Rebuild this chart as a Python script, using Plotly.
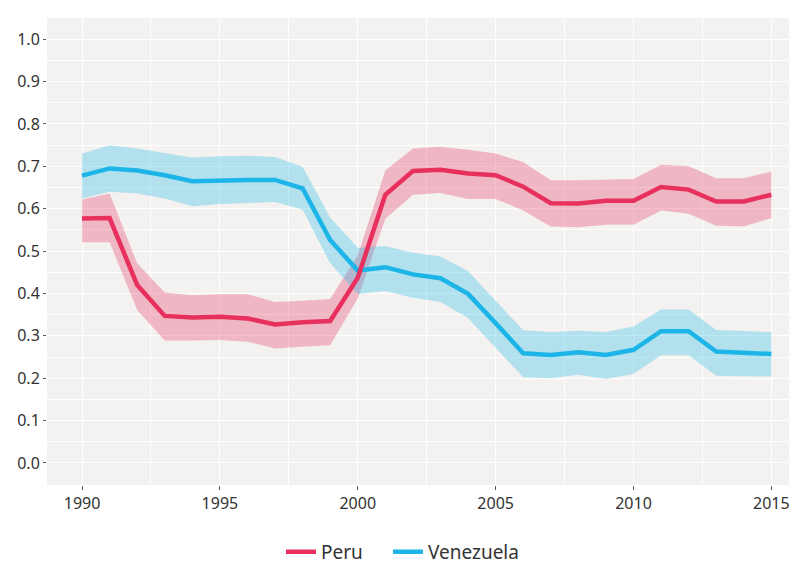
import plotly.graph_objects as go

years = list(range(1990, 2016))

peru_mean = [0.577, 0.578, 0.420, 0.347, 0.343, 0.345, 0.341, 0.327, 0.332, 0.335,
             0.437, 0.633, 0.689, 0.692, 0.683, 0.679, 0.652, 0.613, 0.612, 0.619,
             0.619, 0.651, 0.645, 0.617, 0.617, 0.633]
peru_upper = [0.622, 0.636, 0.471, 0.402, 0.396, 0.398, 0.398, 0.380, 0.383, 0.387,
              0.490, 0.690, 0.742, 0.746, 0.739, 0.730, 0.710, 0.667, 0.667, 0.669,
              0.670, 0.704, 0.700, 0.672, 0.672, 0.688]
peru_lower = [0.521, 0.521, 0.361, 0.289, 0.289, 0.290, 0.286, 0.270, 0.274, 0.278,
              0.388, 0.576, 0.633, 0.637, 0.623, 0.623, 0.596, 0.558, 0.556, 0.562,
              0.562, 0.596, 0.588, 0.560, 0.558, 0.578]

ven_mean = [0.678, 0.695, 0.690, 0.679, 0.665, 0.667, 0.668, 0.668, 0.648, 0.526,
            0.454, 0.462, 0.445, 0.436, 0.399, 0.330, 0.259, 0.255, 0.261, 0.255,
            0.267, 0.311, 0.311, 0.263, 0.259, 0.257]
ven_upper = [0.730, 0.750, 0.742, 0.732, 0.721, 0.724, 0.725, 0.722, 0.699, 0.579,
             0.508, 0.512, 0.496, 0.487, 0.453, 0.383, 0.313, 0.309, 0.312, 0.309,
             0.322, 0.362, 0.362, 0.314, 0.312, 0.309]
ven_lower = [0.624, 0.640, 0.636, 0.624, 0.606, 0.611, 0.614, 0.616, 0.598, 0.471,
             0.399, 0.406, 0.390, 0.380, 0.342, 0.273, 0.202, 0.200, 0.208, 0.198,
             0.210, 0.254, 0.254, 0.206, 0.205, 0.204]

PERU = "#e8305e"
VEN = "#1db5e8"
PERU_FILL = "rgba(232,48,94,0.30)"
VEN_FILL = "rgba(29,181,232,0.30)"

fig = go.Figure()

fig.add_trace(go.Scatter(x=years + years[::-1], y=peru_upper + peru_lower[::-1],
                         fill="toself", fillcolor=PERU_FILL, line=dict(width=0),
                         mode="lines", hoverinfo="skip", showlegend=False))
fig.add_trace(go.Scatter(x=years + years[::-1], y=ven_upper + ven_lower[::-1],
                         fill="toself", fillcolor=VEN_FILL, line=dict(width=0),
                         mode="lines", hoverinfo="skip", showlegend=False))
fig.add_trace(go.Scatter(x=years, y=ven_mean, mode="lines", name="Venezuela",
                         line=dict(color=VEN, width=4.5), legend="legend2"))
fig.add_trace(go.Scatter(x=years, y=peru_mean, mode="lines", name="Peru",
                         line=dict(color=PERU, width=4.5), legend="legend"))

font_family = "Noto Sans"
legend_style = dict(orientation="h", xref="container", xanchor="left",
                    y=-0.143, yanchor="middle",
                    font=dict(size=19, color="#333333"), itemwidth=30,
                    bgcolor="rgba(0,0,0,0)")

# page body has an 8px default margin; figure sized so that it ends at the window edge
fig.update_layout(
    width=789, height=559,
    margin=dict(l=39, r=0, t=10, b=82, autoexpand=False),
    paper_bgcolor="white",
    plot_bgcolor="#f3f2f0",
    font=dict(family=font_family, size=16, color="#333333"),
    showlegend=True,
    legend=dict(x=0.346, **legend_style),
    legend2=dict(x=0.4816, **legend_style),
)

fig.update_xaxes(
    range=[1988.73, 2015.93], automargin=False,
    tick0=1990, dtick=5,
    showgrid=True, gridcolor="white", gridwidth=1.3,
    zeroline=False, showline=False,
    ticks="outside", ticklen=4, tickwidth=1, tickcolor="#555555",
    minor=dict(tick0=1990, dtick=2.5, showgrid=True, gridcolor="white", gridwidth=1.3, ticks=""),
    tickfont=dict(size=16, color="#333333"),
)
fig.update_yaxes(
    range=[-0.052, 1.05], automargin=False,
    tick0=0, dtick=0.1, tickformat=".1f",
    showgrid=True, gridcolor="white", gridwidth=1.3,
    zeroline=False, showline=False,
    ticks="outside", ticklen=3, tickwidth=1, tickcolor="#555555",
    minor=dict(tick0=0, dtick=0.05, showgrid=True, gridcolor="white", gridwidth=1.3, ticks=""),
    tickfont=dict(size=16, color="#333333"),
)

fig.write_html("out.html")
